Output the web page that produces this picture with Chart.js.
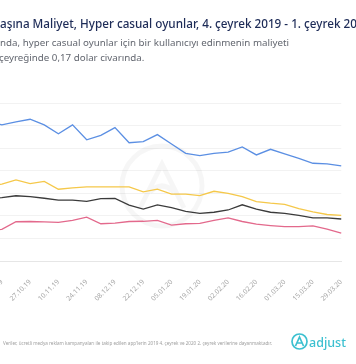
<!DOCTYPE html>
<html><head><meta charset="utf-8">
<script src="https://cdn.jsdelivr.net/npm/chart.js@4/dist/chart.umd.min.js"></script>
<style>
html,body{margin:0;padding:0;width:356px;height:364px;overflow:hidden;background:#fff;position:relative}
#wrap{position:absolute;left:-60px;top:0;width:416px;height:364px}
</style></head><body>
<div id="wrap"><canvas id="c" width="416" height="364"></canvas></div>
<script>
// ---- data ----
const categories = ['06.10.19','13.10.19','20.10.19','27.10.19','03.11.19','10.11.19','17.11.19','24.11.19','01.12.19','08.12.19','15.12.19','22.12.19','29.12.19','05.01.20','12.01.20','19.01.20','26.01.20','02.02.20','09.02.20','16.02.20','23.02.20','01.03.20','08.03.20','15.03.20','22.03.20','29.03.20'];
const tickLabels = ['13.10.19','27.10.19','10.11.19','24.11.19','08.12.19','22.12.19','05.01.20','19.01.20','02.02.20','16.02.20','01.03.20','15.03.20','29.03.20'];
const seriesBlue   = [0.620,0.603,0.616,0.628,0.603,0.564,0.603,0.537,0.557,0.591,0.524,0.529,0.560,0.518,0.477,0.467,0.477,0.482,0.505,0.470,0.495,0.475,0.455,0.433,0.430,0.421];
const seriesYellow = [0.332,0.341,0.359,0.343,0.353,0.318,0.324,0.328,0.328,0.328,0.328,0.306,0.318,0.296,0.296,0.290,0.309,0.300,0.285,0.263,0.256,0.251,0.232,0.218,0.206,0.202];
const seriesBlack  = [0.277,0.281,0.289,0.285,0.278,0.270,0.270,0.264,0.276,0.277,0.248,0.230,0.249,0.236,0.220,0.211,0.216,0.226,0.249,0.230,0.216,0.211,0.202,0.191,0.191,0.186];
const seriesPink   = [0.137,0.140,0.174,0.175,0.173,0.171,0.180,0.194,0.165,0.168,0.175,0.176,0.180,0.159,0.165,0.167,0.180,0.191,0.175,0.163,0.157,0.152,0.152,0.156,0.141,0.124];

const titleText = 'Kullanıcı Başına Maliyet, Hyper casual oyunlar, 4. çeyrek 2019 - 1. çeyrek 2020';
const subtitle1 = 'Dünya çapında, hyper casual oyunlar için bir kullanıcıyı edinmenin maliyeti';
const subtitle2 = "2020'nin ilk çeyreğinde 0,17 dolar civarında.";
const footerText = "Veriler, ücretli medya reklam kampanyaları ile takip edilen app'lerin 2019 4. çeyrek ve 2020 2. çeyrek verilerine dayanmaktadır.";
const logoText = 'adjust';

const SHIFT = 60; // canvas is shifted left by this many px

function fitText(ctx, weight, family, full, start, end, target) {
  const base = 20;
  ctx.font = weight + ' ' + base + 'px ' + family;
  const sub = full.substring(start, end);
  const w = ctx.measureText(sub).width;
  const size = base * target / w;
  ctx.font = weight + ' ' + size.toFixed(2) + 'px ' + family;
  return ctx.measureText(full.substring(0, start)).width;
}

const textPlugin = {
  id: 'texts',
  afterDraw(chart) {
    const ctx = chart.ctx;
    ctx.save();
    ctx.textBaseline = 'alphabetic';
    ctx.textAlign = 'left';
    let pre, s;
    s = titleText.indexOf('aşına');
    pre = fitText(ctx, '500', '"Noto Sans"', titleText, s, titleText.length - 2, 357);
    ctx.fillStyle = '#1d2b57';
    ctx.fillText(titleText, SHIFT - pre, 27.5);
    ctx.fillStyle = '#62666f';
    s = subtitle1.indexOf('nda,');
    pre = fitText(ctx, '400', '"Noto Sans"', subtitle1, s, subtitle1.length, 289);
    ctx.fillText(subtitle1, SHIFT - pre, 46);
    s = subtitle2.indexOf('çeyreğinde');
    pre = ctx.measureText(subtitle2.substring(0, s)).width;
    ctx.fillText(subtitle2, SHIFT - pre - 1, 61);
    ctx.fillStyle = '#a0a0a0';
    s = footerText.indexOf('y reklam');
    pre = fitText(ctx, '400', '"Noto Sans"', footerText, s, footerText.length, 269);
    ctx.fillText(footerText, SHIFT + 3 - pre, 344.5);
    // logo
    const teal = '#3cc0d0';
    ctx.strokeStyle = teal; ctx.lineWidth = 1.7;
    const lx = SHIFT + 299.5, ly = 341.5;
    ctx.beginPath(); ctx.arc(lx, ly, 7.5, 0, Math.PI * 2); ctx.stroke();
    ctx.beginPath();
    ctx.moveTo(lx - 4, ly + 4.5); ctx.lineTo(lx, ly - 4.5); ctx.lineTo(lx + 4, ly + 4.5);
    ctx.moveTo(lx - 2.8, ly + 1.5); ctx.lineTo(lx + 2.8, ly + 1.5);
    ctx.stroke();
    ctx.fillStyle = teal;
    fitText(ctx, '500', '"Noto Sans"', logoText, 0, logoText.length, 37);
    ctx.fillText(logoText, SHIFT + 309, 346.5);
    ctx.restore();
  },
  beforeDatasetsDraw(chart) {
    const ctx = chart.ctx;
    ctx.save();
    ctx.strokeStyle = 'rgba(0,0,0,0.035)';
    ctx.lineWidth = 5;
    const cx = SHIFT + 162, cy = 186;
    ctx.beginPath(); ctx.arc(cx, cy, 40, 0, Math.PI * 2); ctx.stroke();
    ctx.beginPath();
    ctx.moveTo(cx - 22, cy + 22); ctx.lineTo(cx, cy - 22); ctx.lineTo(cx + 22, cy + 22);
    ctx.moveTo(cx - 12, cy + 6); ctx.quadraticCurveTo(cx, cy - 6, cx + 12, cy + 6);
    ctx.stroke();
    ctx.restore();
  }
};

const mk = (data, color) => ({ data, borderColor: color, backgroundColor: color, borderWidth: 1.3, pointRadius: 0, tension: 0, fill: false });

new Chart(document.getElementById('c'), {
  type: 'line',
  data: {
    labels: categories,
    datasets: [
      mk(seriesBlue, '#5b8fe3'),
      mk(seriesYellow, '#f5c84a'),
      mk(seriesBlack, '#3b3b3b'),
      mk(seriesPink, '#e3698c')
    ]
  },
  options: {
    responsive: false,
    animation: false,
    devicePixelRatio: 1,
    layout: { padding: { left: 47.7, right: 10, top: 103, bottom: 0 } },
    plugins: { legend: { display: false }, tooltip: { enabled: false } },
    scales: {
      x: {
        grid: { display: false },
        border: { display: true, color: '#e6e6e6', width: 1 },
        ticks: {
          autoSkip: false, minRotation: 45, maxRotation: 45, padding: 9,
          color: '#a6a6a6', font: { size: 6.8, family: '"Noto Sans"' },
          callback: (v, i) => tickLabels.includes(categories[i]) ? categories[i] : ''
        },
        afterFit: s => { s.height = 103; }
      },
      y: {
        min: 0, max: 0.7,
        ticks: { stepSize: 0.1, display: false },
        grid: { color: '#f2f2f2', drawTicks: false },
        border: { display: false },
        afterFit: s => { s.width = 0; }
      }
    }
  },
  plugins: [textPlugin]
});
</script>
</body></html>
